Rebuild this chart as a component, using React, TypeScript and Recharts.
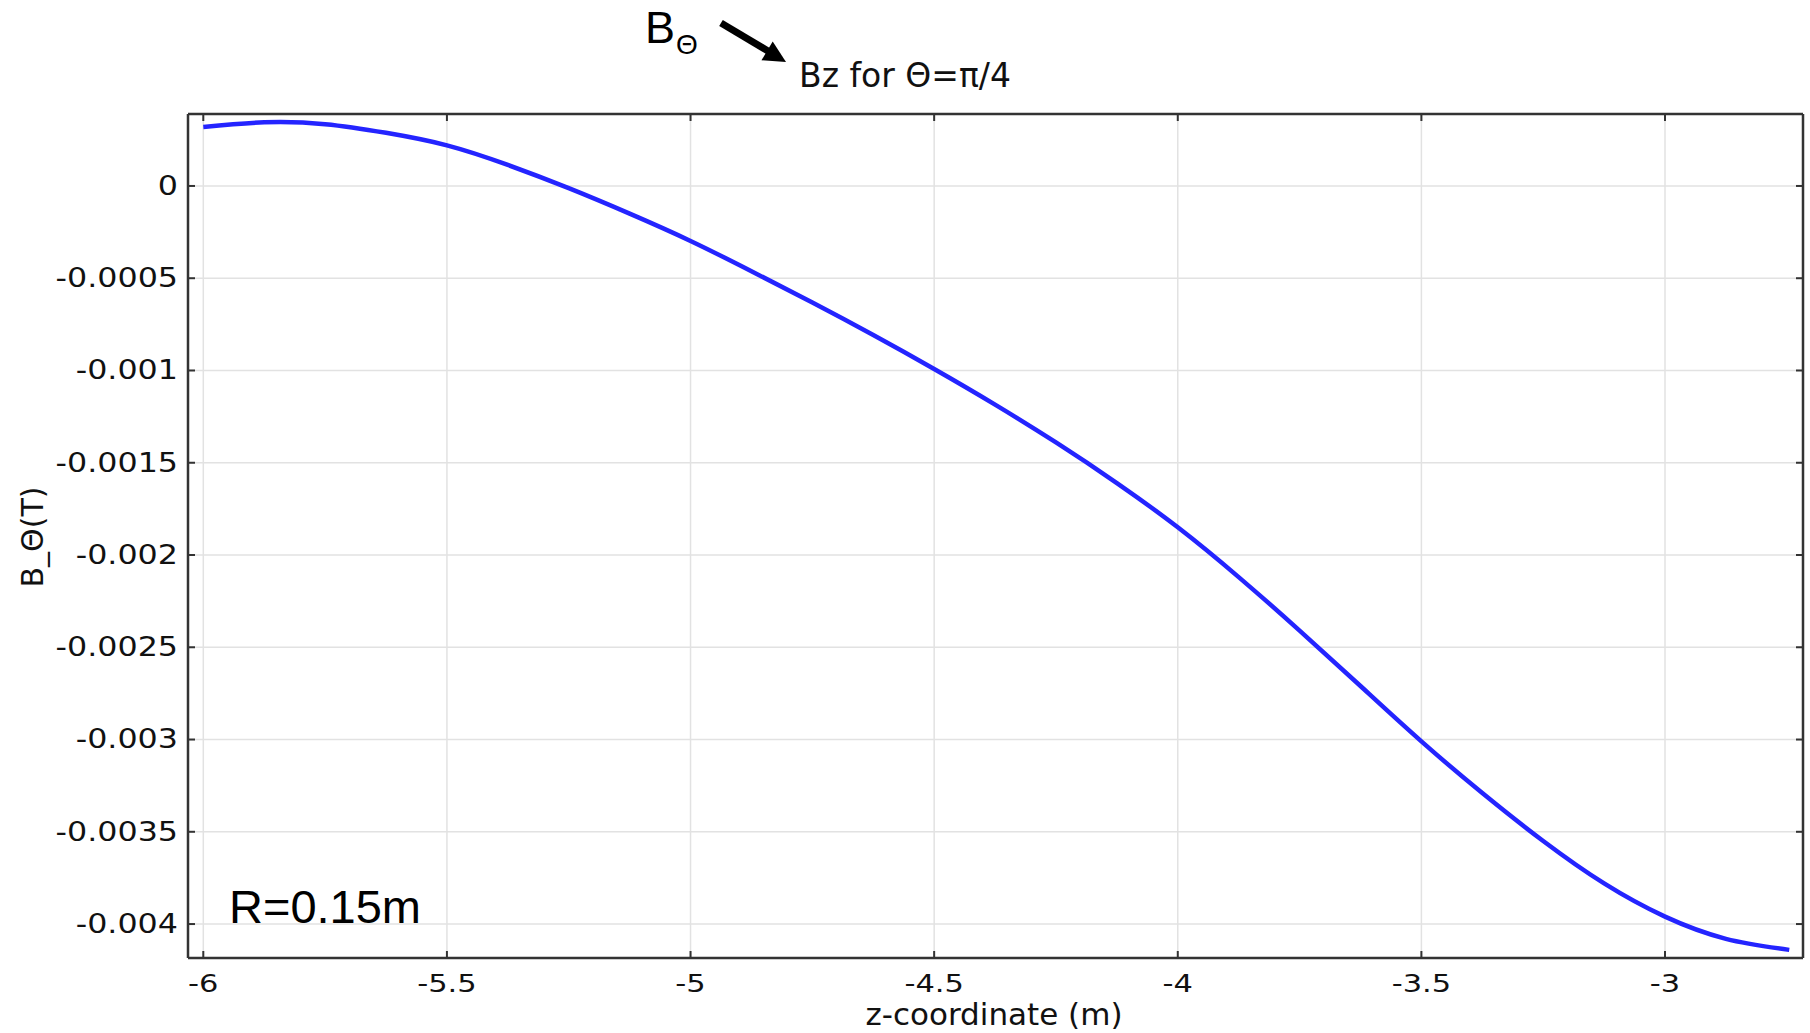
import { LineChart, Line, XAxis, YAxis, CartesianGrid } from 'recharts';

// z-coordinate (m) and B_theta (T)
const zValues = [
  -6.0, -5.875, -5.75, -5.625, -5.5, -5.375, -5.25, -5.125, -5.0, -4.875, -4.75, -4.625, -4.5, -4.375,
  -4.25, -4.125, -4.0, -3.875, -3.75, -3.625, -3.5, -3.375, -3.25, -3.125, -3.0, -2.875, -2.745,
];
const bTheta = [
  0.00032, 0.000345, 0.000335, 0.000288, 0.00022, 0.000114, -0.000012, -0.00015, -0.000298, -0.000462,
  -0.000632, -0.000808, -0.000992, -0.001185, -0.00139, -0.00161, -0.00185, -0.00212, -0.00241, -0.00271,
  -0.00301, -0.00329, -0.00355, -0.00378, -0.00396, -0.00408, -0.00414,
];
const xTicks = [-6, -5.5, -5, -4.5, -4, -3.5, -3];
const yTicks = [0, -0.0005, -0.001, -0.0015, -0.002, -0.0025, -0.003, -0.0035, -0.004];

const data = zValues.map((z, i) => ({ z, b: bTheta[i] }));

const W = 1810;
const H = 1033;
const FRAME = '#333333';
const FONT = '"DejaVu Sans", sans-serif';
const ARIAL = '"Liberation Sans", Arial, sans-serif';

const fmtY = (v: number) => (v === 0 ? '0' : String(Number(v.toFixed(4))));

function XTick(props: any) {
  const { x, y, payload, side } = props;
  const dir = side === 'bottom' ? -1 : 1;
  return (
    <g>
      <line x1={x} y1={y} x2={x} y2={y + dir * 7} stroke={FRAME} strokeWidth={2} />
      {side === 'bottom' && (
        <text
          transform={`translate(${x},${y + 34}) scale(1.22,1)`}
          textAnchor="middle"
          fontFamily={FONT}
          fontSize={25}
          fill="#111"
        >
          {payload.value}
        </text>
      )}
    </g>
  );
}

function YTick(props: any) {
  const { x, y, payload, side } = props;
  const dir = side === 'left' ? 1 : -1;
  return (
    <g>
      <line x1={x} y1={y} x2={x + dir * 7} y2={y} stroke={FRAME} strokeWidth={2} />
      {side === 'left' && (
        <text
          transform={`translate(${x - 10},${y}) scale(1.22,1)`}
          textAnchor="end"
          dominantBaseline="central"
          fontFamily={FONT}
          fontSize={26}
          fill="#111"
        >
          {fmtY(payload.value)}
        </text>
      )}
    </g>
  );
}

export default function App() {
  const xDomain = [-6.0314, -2.7168];
  const yDomain = [-0.004184, 0.00039];
  return (
    <div style={{ position: 'absolute', left: 0, top: 0, width: W, height: H, background: '#fff' }}>
      <LineChart width={W} height={H} data={data} margin={{ top: 100, right: 0, bottom: 0, left: 0 }}>
        <CartesianGrid stroke="#e2e2e2" strokeWidth={1.5} />
        <XAxis
          dataKey="z"
          type="number"
          domain={xDomain}
          ticks={xTicks}
          allowDataOverflow
          height={75}
          tickSize={0}
          tickMargin={0}
          axisLine={{ stroke: FRAME, strokeWidth: 2.5 }}
          tickLine={false}
          tick={<XTick side="bottom" />}
        />
        <XAxis
          xAxisId="top"
          orientation="top"
          dataKey="z"
          type="number"
          domain={xDomain}
          ticks={xTicks}
          allowDataOverflow
          height={14}
          tickSize={0}
          tickMargin={0}
          axisLine={{ stroke: FRAME, strokeWidth: 2.5 }}
          tickLine={false}
          tick={<XTick side="top" />}
        />
        <YAxis
          type="number"
          domain={yDomain}
          ticks={yTicks}
          allowDataOverflow
          width={188}
          tickSize={0}
          tickMargin={0}
          axisLine={{ stroke: FRAME, strokeWidth: 2.5 }}
          tickLine={false}
          tick={<YTick side="left" />}
        />
        <YAxis
          yAxisId="right"
          orientation="right"
          type="number"
          domain={yDomain}
          ticks={yTicks}
          allowDataOverflow
          width={7}
          tickSize={0}
          tickMargin={0}
          axisLine={{ stroke: FRAME, strokeWidth: 2.5 }}
          tickLine={false}
          tick={<YTick side="right" />}
        />
        <Line
          type="natural"
          dataKey="b"
          stroke="#2424ff"
          strokeWidth={4.5}
          dot={false}
          isAnimationActive={false}
        />
      </LineChart>

      <svg width={W} height={H} style={{ position: 'absolute', left: 0, top: 0, pointerEvents: 'none' }}>
        {/* axis titles */}
        <text x={994} y={1025} textAnchor="middle" fontFamily={FONT} fontSize={31} fill="#111">
          z-coordinate (m)
        </text>
        <text
          transform="translate(32,537) rotate(-90)"
          textAnchor="middle"
          dominantBaseline="central"
          fontFamily={FONT}
          fontSize={30}
          fill="#111"
        >
          B_Θ(T)
        </text>

        {/* top annotation */}
        <text x={645} y={43} fontFamily={ARIAL} fontSize={45} fill="#000">
          B
        </text>
        <text x={676} y={54} fontFamily={ARIAL} fontSize={28} fill="#000">
          Θ
        </text>
        <line x1={721} y1={23} x2={768} y2={51} stroke="#000" strokeWidth={7} />
        <polygon points="786,62 761.5,60.3 772.7,41.4" fill="#000" />
        <text x={799} y={87} fontFamily={FONT} fontSize={33} fill="#111">
          Bz for Θ=π/4
        </text>

        {/* radius label */}
        <text x={229} y={923} fontFamily={ARIAL} fontSize={47} fill="#000">
          R=0.15m
        </text>
      </svg>
    </div>
  );
}
